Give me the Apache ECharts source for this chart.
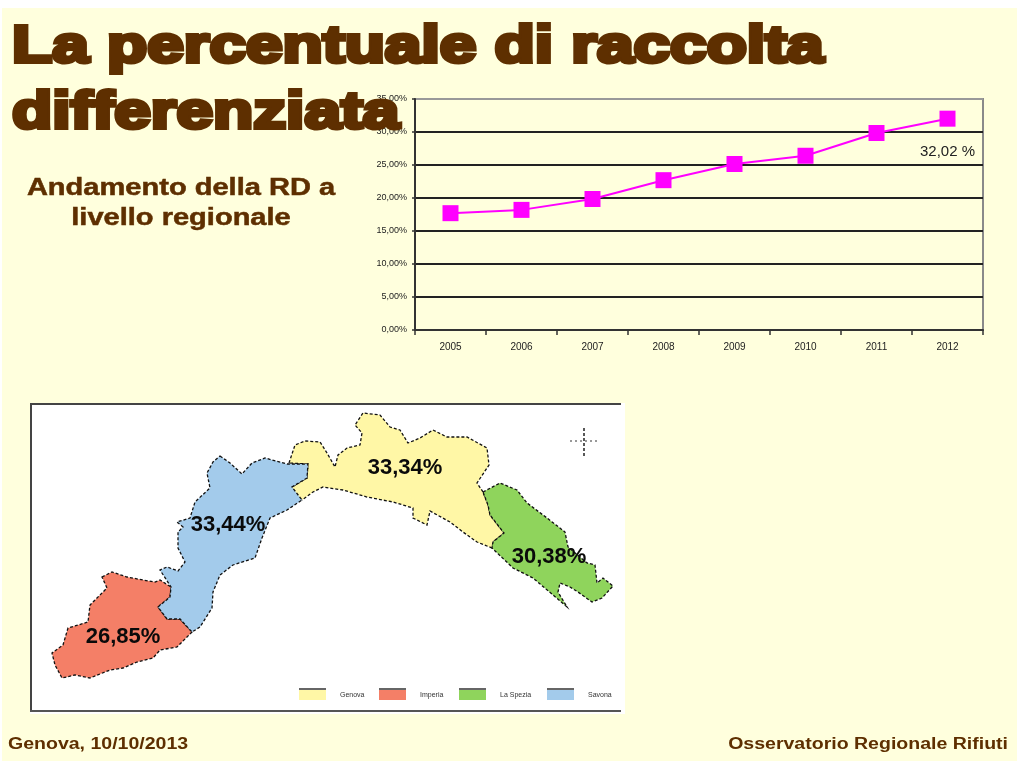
<!DOCTYPE html>
<html><head><meta charset="utf-8">
<style>html,body{margin:0;padding:0;background:#fff}#c{width:1020px;height:768px}</style>
<script src="https://cdn.jsdelivr.net/npm/echarts@6/dist/echarts.min.js"></script>
</head><body><div id="c"></div>
<script>
const years = ['2005','2006','2007','2008','2009','2010','2011','2012'];
const rdValues = [17.7, 18.2, 19.85, 22.7, 25.15, 26.4, 29.85, 32.02];
const provinces = ['Genova','Imperia','La Spezia','Savona'];
const provinceValues = [33.34, 26.85, 30.38, 33.44];
const provinceColors = ['#FFF7A6','#F47F67','#8FD45C','#A3CBEB'];
const labelAnchors = [[405,468],[123,637],[549,557],[228,525]];
const legendX = [299,379,459,547];
const outlineGenova = [[289,463],[295,445],[305,441],[320,442],[327,453],[335,467],[338,455],[347,448],[360,445],[362,433],[355,425],[363,413],[380,415],[390,427],[400,430],[408,443],[420,438],[433,430],[447,437],[467,437],[487,448],[489,465],[477,483],[483,492],[488,505],[490,515],[504,533],[493,542],[492,548],[477,542],[463,532],[450,522],[430,511],[427,525],[413,518],[413,508],[393,502],[367,497],[343,490],[323,487],[313,492],[302,500],[293,495],[292,487],[307,478],[308,464]];
const outlineImperia = [[102,577],[112,572],[127,577],[143,580],[155,582],[160,580],[171,587],[170,597],[158,607],[167,619],[180,619],[192,632],[177,647],[160,650],[153,658],[137,662],[123,668],[110,670],[90,678],[75,675],[62,678],[55,665],[52,653],[63,645],[68,628],[88,622],[90,605],[107,588]];
const outlineSpezia = [[483,492],[500,483],[517,490],[527,503],[547,518],[565,532],[568,547],[587,563],[595,565],[597,583],[603,578],[613,586],[602,598],[592,602],[578,592],[570,587],[560,583],[558,592],[567,607],[553,595],[533,578],[513,568],[492,548],[493,542],[504,533],[490,515],[488,505]];
const outlineSavona = [[220,456],[230,463],[242,474],[252,463],[265,458],[287,464],[308,464],[307,478],[292,487],[302,500],[287,510],[270,518],[262,538],[255,558],[233,565],[220,575],[213,592],[212,608],[200,627],[192,632],[180,619],[167,619],[158,607],[170,597],[171,587],[160,570],[167,567],[178,571],[185,562],[178,548],[178,532],[183,527],[177,522],[190,518],[195,502],[210,488],[207,473],[213,462]];
const outlines = [outlineGenova, outlineImperia, outlineSpezia, outlineSavona];
const fmtPct = v => v.toFixed(2).replace('.', ',');

const geo = {type:'FeatureCollection',features:provinces.map((n,i)=>({
  type:'Feature',properties:{name:n,cp:labelAnchors[i]},
  geometry:{type:'Polygon',coordinates:[outlines[i].concat([outlines[i][0]])]}
}))};
echarts.registerMap('liguria', geo);
const all = outlines.flat();
const minX = Math.min(...all.map(p=>p[0])), maxX = Math.max(...all.map(p=>p[0]));
const minY = Math.min(...all.map(p=>p[1])), maxY = Math.max(...all.map(p=>p[1]));
const brown = '#5E2F00';
const F = 'Liberation Sans';
const chart = echarts.init(document.getElementById('c'), null, {renderer:'canvas'});
const bigTitle = (t,x,y) => ({type:'text',z:50,x,y,scaleX:1.265,style:{text:t,font:'bold 52px "'+F+'"',fill:brown,stroke:brown,lineWidth:4,shadowColor:'#0c0c0c',shadowBlur:0,shadowOffsetX:3,shadowOffsetY:3,textVerticalAlign:'top'}});
const sub = (t,cx,y) => ({type:'text',z:50,x:cx,y,scaleX:1.21,style:{text:t,font:'bold 24px "'+F+'"',fill:brown,stroke:brown,lineWidth:0.5,textAlign:'center',textVerticalAlign:'top',shadowColor:'#cfa060',shadowBlur:0,shadowOffsetX:1,shadowOffsetY:1}});
const foot = (t,x,y,al) => ({type:'text',z:50,x,y,scaleX:1.22,style:{text:t,font:'bold 16px "'+F+'"',fill:brown,textAlign:al,textVerticalAlign:'top'}});
const legendEls = provinces.flatMap((n,i)=>[
  {type:'rect',z:-4,shape:{x:legendX[i],y:690,width:27,height:10},style:{fill:provinceColors[i]}},
  {type:'line',z:-3,shape:{x1:legendX[i],y1:689,x2:legendX[i]+27,y2:689},style:{stroke:'#333',lineWidth:1.5}},
  {type:'text',z:-3,x:legendX[i]+41,y:695,style:{text:n,font:'7px "'+F+'"',fill:'#333',textVerticalAlign:'middle'}}
]);
chart.setOption({
  animation:false,
  backgroundColor:'#fff',
  graphic:{elements:[
    {type:'rect',z:-20,shape:{x:2,y:8,width:1015,height:753},style:{fill:'#FFFFDD'}},
    {type:'rect',z:-15,shape:{x:30,y:403,width:595,height:311},style:{fill:'#fff'}},
    {type:'line',z:-10,shape:{x1:30,y1:404,x2:621,y2:404},style:{stroke:'#444',lineWidth:2}},
    {type:'line',z:-10,shape:{x1:31,y1:403,x2:31,y2:712},style:{stroke:'#444',lineWidth:2}},
    {type:'line',z:-10,shape:{x1:30,y1:711,x2:621,y2:711},style:{stroke:'#555',lineWidth:2}},
    {type:'line',z:-5,shape:{x1:584,y1:428,x2:584,y2:457},style:{stroke:'#222',lineWidth:1.5,lineDash:[3,2]}},
    {type:'line',z:-5,shape:{x1:570,y1:441,x2:598,y2:441},style:{stroke:'#333',lineWidth:1,lineDash:[2,3]}},
    ...legendEls,
    bigTitle('La percentuale di raccolta',12,22),
    bigTitle('differenziata',12,88),
    sub('Andamento della RD a',181,176),
    sub('livello regionale',181,206),
    foot('Genova, 10/10/2013',8,737,'left'),
    foot('Osservatorio Regionale Rifiuti',1008,737,'right')
  ]},
  grid:{left:415,top:99,width:568,height:231,show:true,borderColor:'#8a8a8a',borderWidth:2,backgroundColor:'transparent'},
  xAxis:{type:'category',data:years,boundaryGap:true,
    axisLine:{show:true,lineStyle:{color:'#333',width:2}},
    axisTick:{show:true,alignWithLabel:false,length:5,lineStyle:{color:'#333',width:1.5}},
    axisLabel:{fontFamily:F,fontSize:10,color:'#222',margin:12},splitLine:{show:false}},
  yAxis:{type:'value',min:0,max:35,interval:5,
    axisLine:{show:true,lineStyle:{color:'#333',width:2}},
    axisTick:{show:true,length:3,lineStyle:{color:'#333',width:1.5}},
    axisLabel:{fontFamily:F,fontSize:9,color:'#222',margin:8,formatter:v=>fmtPct(v)+'%'},
    splitLine:{show:true,lineStyle:{color:['#222','#222','#222','#222','#222','#222','#222','#999'],width:2}}},
  series:[
    {type:'line',data:rdValues.map((v,i)=>i===rdValues.length-1?{value:v,label:{show:true,position:'bottom',distance:18,formatter:p=>fmtPct(p.value)+' %',fontFamily:F,fontSize:15,color:'#222'}}:v),
      symbol:'rect',symbolSize:16,lineStyle:{color:'#FF00FF',width:2},itemStyle:{color:'#FF00FF'},z:5},
    {type:'map',map:'liguria',roam:false,silent:true,showLegendSymbol:false,
      projection:{project:p=>p,unproject:p=>p},
      left:minX,top:minY,width:maxX-minX,height:maxY-minY,
      data:provinces.map((n,i)=>({name:n,value:provinceValues[i],itemStyle:{areaColor:provinceColors[i]}})),
      itemStyle:{borderColor:'#111',borderWidth:1.3,borderType:[3,2]},
      label:{show:true,formatter:p=>fmtPct(p.value)+'%',fontFamily:F,fontWeight:'bold',fontSize:22,color:'#0a0a0a'},
      emphasis:{disabled:true},select:{disabled:true}}
  ]
});
</script></body></html>
